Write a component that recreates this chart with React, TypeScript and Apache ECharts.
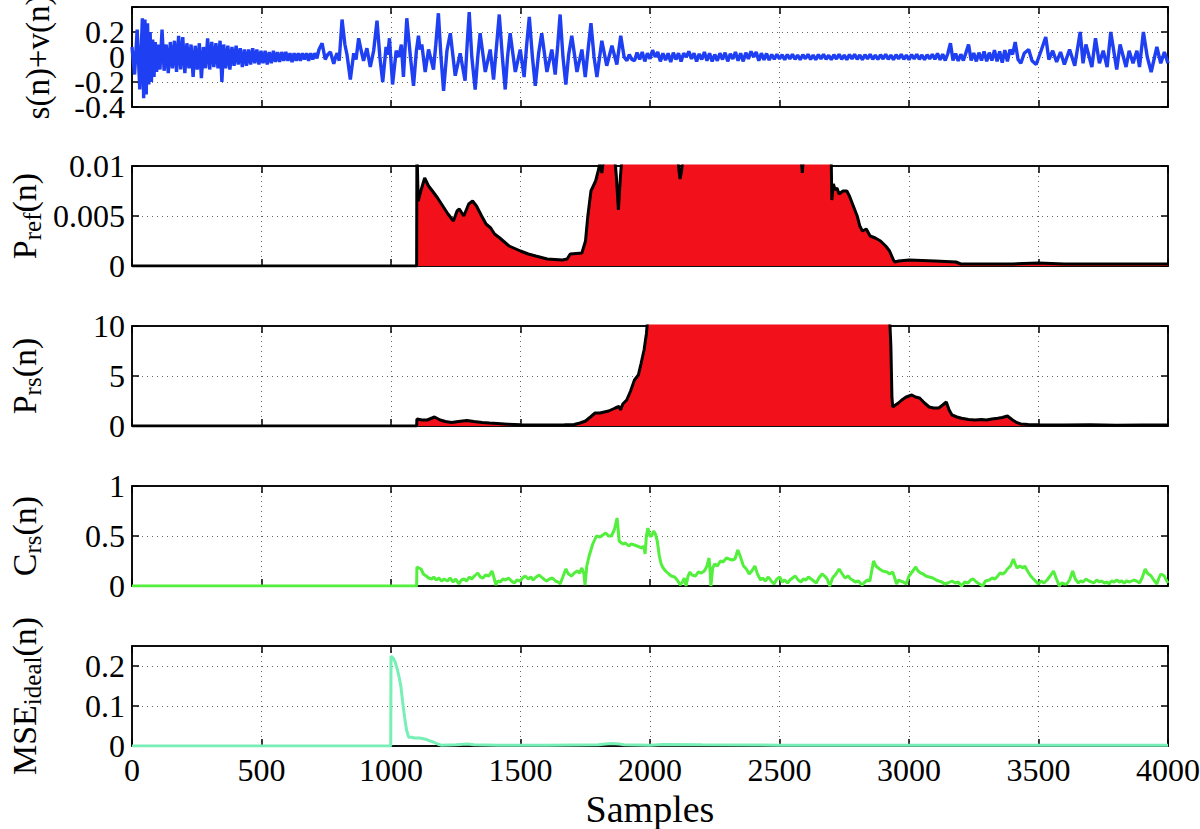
import React, { useEffect, useRef } from "react";
import * as echarts from "echarts";

const FONT = "Liberation Serif";

// x axis (samples)
const X_MIN = 0;
const X_MAX = 4000;
const X_INTERVAL = 500;

// y axis settings per panel
const yMins = [-0.4, 0, 0, 0, 0];
const yMaxs = [0.4, 0.01, 10, 1, 0.25];
const yIntervals = [0.2, 0.005, 5, 0.5, 0.1];
// panel 1 tick labels, split over two label layers so none is dropped
const signalLabelsA = [-0.4, 0];
const signalLabelsB = [-0.2, 0.2];
const yNames = [
  "s(n)+v(n)",
  "{a|P}{b|ref}{a|(n)}",
  "{a|P}{b|rs}{a|(n)}",
  "{a|C}{b|rs}{a|(n)}",
  "{a|MSE}{b|ideal}{a|(n)}",
];

// Panel 1: s(n)+v(n), [sample, value]
const signalStart: [number, number][] = [
  [0, 0.08], [10, -0.14], [20, 0.22], [30, -0.26], [40, 0.31], [45, -0.33], [50, 0.3], [55, -0.3],
  [60, 0.27], [65, -0.22], [70, 0.2], [75, -0.2], [80, 0.14], [85, -0.16], [90, 0.12], [95, -0.12],
  [100, 0.1], [108, -0.1], [116, 0.22], [124, -0.11], [132, 0.1], [140, -0.13], [148, 0.12], [156, -0.09],
  [164, 0.13], [172, -0.12], [180, 0.17], [188, -0.1], [196, 0.16], [204, -0.13], [212, 0.11], [220, -0.09],
  [228, 0.1], [236, -0.16], [244, 0.09], [252, -0.1], [260, 0.11], [268, -0.17], [276, 0.08], [284, -0.09],
  [292, 0.15], [300, -0.1], [308, 0.12], [316, -0.08], [324, 0.11], [332, -0.09], [340, 0.13], [347, -0.2],
  [354, 0.1], [362, -0.09], [370, 0.09], [378, -0.1], [386, 0.08], [394, -0.07], [402, 0.09], [410, -0.06],
  [418, 0.07], [426, -0.08], [434, 0.06], [442, -0.07], [450, 0.06], [458, -0.06], [466, 0.07], [474, -0.05],
  [482, 0.06], [490, -0.06], [498, 0.05], [506, -0.05], [514, 0.05], [522, -0.06], [530, 0.04], [538, -0.05],
  [546, 0.05], [554, -0.04], [562, 0.04], [570, -0.04], [578, 0.04], [586, -0.03], [594, 0.04], [602, -0.03],
  [610, 0.03], [618, -0.04], [626, 0.03], [634, -0.03], [642, 0.03], [650, -0.03], [658, 0.03], [666, -0.02],
  [674, 0.03], [682, -0.03], [690, 0.03], [698, -0.02], [706, 0.03], [714, -0.01], [722, 0.06], [734, 0.11],
  [746, -0.02], [756, 0.02], [766, 0.04], [779, -0.055], [786, 0.0], [792, 0.03], [800, -0.03],
];

const signalBurst: [number, number][] = [
  [811, 0.3], [822, 0.1], [830, 0.02], [843, -0.18], [856, 0.03], [865, -0.02], [875, 0.15], [885, 0.05],
  [894, -0.03], [907, 0.07], [920, -0.08], [933, 0.05], [946, 0.29], [957, 0.0], [968, -0.2], [981, 0.08],
  [988, 0.02], [994, 0.15], [1006, -0.22], [1020, 0.05], [1030, 0.0], [1040, 0.1], [1048, -0.16], [1061, 0.31],
  [1075, 0.0], [1087, -0.23], [1098, 0.05], [1106, 0.17], [1112, 0.06], [1119, 0.1], [1132, -0.12], [1145, 0.06],
  [1164, -0.1], [1173, 0.1], [1183, 0.35], [1193, 0.0], [1203, -0.27], [1216, 0.05], [1229, 0.19], [1248, -0.15],
  [1267, 0.03], [1286, -0.19], [1294, 0.1], [1302, 0.36], [1312, 0.0], [1325, -0.26], [1335, 0.0], [1344, 0.19],
  [1364, -0.12], [1383, 0.06], [1396, -0.18], [1408, 0.1], [1418, 0.34], [1430, 0.0], [1441, -0.26], [1450, 0.0],
  [1460, 0.19], [1480, -0.12], [1499, 0.06], [1514, -0.16], [1524, 0.1], [1534, 0.32], [1546, 0.0], [1557, -0.23],
  [1570, 0.03], [1582, 0.19], [1602, -0.12], [1621, 0.06], [1634, -0.14], [1644, 0.1], [1653, 0.34], [1664, 0.0],
  [1675, -0.22], [1686, 0.02], [1698, 0.17], [1718, -0.12], [1737, 0.06], [1750, -0.16], [1762, 0.08], [1772, 0.27],
  [1784, 0.0], [1795, -0.16], [1814, 0.13], [1833, -0.07], [1853, 0.09], [1872, -0.06], [1887, 0.17], [1900, 0.0],
  [1911, -0.03], [1920, 0.02], [1930, -0.02],
];

// quiet part, one value every 10 samples from 1940
const QUIET_START = 1940;
const QUIET_STEP = 10;
const signalQuiet: number[] = [
  -0.03, 0.035, -0.02, 0.04, -0.035, 0.03, -0.015, 0.055, 0.0, 0.04,
  -0.035, 0.03, -0.025, 0.03, -0.04, 0.035, -0.02, 0.03, -0.035, 0.03,
  0.0, 0.045, -0.015, 0.03, -0.035, 0.025, -0.02, 0.04, -0.03, 0.03,
  -0.035, 0.02, -0.03, 0.03, -0.02, 0.035, -0.035, 0.025, -0.015, 0.04,
  -0.03, 0.03, -0.035, 0.035, -0.015, 0.045, 0.0, 0.04, -0.03, 0.03,
  -0.022, 0.028, -0.025, 0.02, -0.018, 0.022, -0.015, 0.018, -0.022, 0.02,
  -0.015, 0.022, -0.018, 0.015, -0.022, 0.018, -0.014, 0.022, -0.019, 0.015,
  -0.022, 0.019, -0.015, 0.022, -0.018, 0.014, -0.022, 0.018, -0.016, 0.022,
  -0.018, 0.015, -0.022, 0.019, -0.015, 0.022, -0.018, 0.016, -0.022, 0.018,
  -0.015, 0.022, -0.018, 0.015, -0.02, 0.018, -0.016, 0.022, -0.018, 0.015,
  -0.022, 0.018, -0.015, 0.022, -0.018, 0.015, -0.022, 0.019, -0.015, 0.022,
  -0.018, 0.016, -0.022, 0.018, -0.015, 0.022, -0.018, 0.028, -0.022, 0.022,
  -0.028, 0.028, 0.11, -0.028, 0.028, -0.032, 0.022, -0.028, 0.035, 0.1,
  -0.028, 0.032, -0.035, 0.035, -0.028, 0.045, -0.035, 0.035, -0.028, 0.055,
  -0.035, 0.045, -0.045, 0.055, -0.035, 0.06,
];

const signalEnd: [number, number][] = [
  [3400, 0.02], [3410, 0.12], [3421, -0.02], [3432, -0.05], [3445, 0.03], [3462, 0.06], [3475, -0.03], [3491, -0.06],
  [3510, 0.05], [3528, 0.16], [3540, -0.02], [3555, 0.05], [3570, -0.04], [3585, 0.04], [3600, -0.06], [3620, 0.06],
  [3640, -0.07], [3661, 0.2], [3672, -0.05], [3683, 0.1], [3706, -0.08], [3720, 0.15], [3735, -0.05], [3750, 0.05],
  [3765, -0.08], [3779, 0.2], [3802, -0.1], [3815, 0.1], [3838, -0.08], [3850, 0.05], [3865, -0.05], [3880, 0.05],
  [3890, -0.08], [3905, 0.2], [3920, 0.0], [3935, -0.12], [3957, 0.08], [3972, -0.05], [3986, 0.04], [4000, -0.05],
];

// Panel 2: P_ref(n)
const pRef: [number, number][] = [
  [0, 0], [1099, 0], [1100, 0.012], [1105, 0.0065], [1115, 0.0075], [1130, 0.0088], [1145, 0.008], [1160, 0.0075],
  [1180, 0.0068], [1200, 0.006], [1220, 0.0052], [1241, 0.0045], [1255, 0.0055], [1264, 0.0057], [1281, 0.005],
  [1300, 0.0062], [1315, 0.0065], [1330, 0.006], [1350, 0.005], [1367, 0.0042], [1385, 0.0038], [1400, 0.0032],
  [1420, 0.0028], [1456, 0.002], [1500, 0.0015], [1530, 0.0012], [1559, 0.001], [1603, 0.0007], [1662, 0.0006],
  [1680, 0.0007], [1692, 0.0012], [1737, 0.0013], [1751, 0.0025], [1760, 0.005], [1772, 0.0075], [1790, 0.0085],
  [1800, 0.0095], [1808, 0.0105], [1814, 0.0093], [1822, 0.011], [1860, 0.012], [1870, 0.009], [1878, 0.0056],
  [1886, 0.009], [1895, 0.012], [2105, 0.012], [2112, 0.0095], [2116, 0.0087], [2122, 0.0095], [2130, 0.012],
  [2580, 0.012], [2588, 0.0093], [2596, 0.012], [2699, 0.012], [2702, 0.0066], [2708, 0.0082], [2715, 0.0076],
  [2722, 0.0078], [2730, 0.0072], [2745, 0.0075], [2760, 0.0075], [2770, 0.007], [2785, 0.006], [2800, 0.005],
  [2810, 0.004], [2820, 0.0035], [2835, 0.0037], [2850, 0.003], [2870, 0.0028], [2890, 0.0025], [2910, 0.002],
  [2925, 0.0015], [2940, 0.0006], [2945, 0.0004], [2960, 0.0005], [3000, 0.0006], [3100, 0.0005], [3181, 0.0004],
  [3200, 0.0002], [3400, 0.0002], [3500, 0.0003], [3600, 0.0002], [4000, 0.0002],
];

// Panel 3: P_rs(n)
const pRs: [number, number][] = [
  [0, 0], [1099, 0], [1100, 0.7], [1120, 0.6], [1140, 0.6], [1168, 0.9], [1190, 0.6], [1210, 0.45], [1234, 0.35],
  [1260, 0.45], [1293, 0.55], [1320, 0.45], [1352, 0.35], [1380, 0.3], [1411, 0.25], [1450, 0.18], [1500, 0.12],
  [1559, 0.1], [1620, 0.1], [1670, 0.12], [1707, 0.15], [1730, 0.3], [1751, 0.5], [1770, 0.9], [1788, 1.3],
  [1807, 1.3], [1840, 1.5], [1866, 1.8], [1875, 1.9], [1881, 1.95], [1886, 1.6], [1895, 2.2], [1910, 2.6],
  [1925, 3.5], [1940, 4.6], [1955, 5.1], [1965, 6.2], [1977, 7.6], [1986, 9.2], [1992, 11], [2925, 11],
  [2930, 8], [2934, 3], [2937, 1.9], [2948, 2.1], [2959, 2.3], [2972, 2.6], [2989, 2.9], [3011, 3.1], [3025, 2.9],
  [3041, 2.8], [3060, 2.3], [3078, 1.9], [3095, 1.8], [3115, 1.8], [3130, 2.1], [3144, 2.4], [3155, 1.6],
  [3166, 1.1], [3185, 0.9], [3203, 0.77], [3230, 0.65], [3255, 0.6], [3280, 0.65], [3299, 0.6], [3320, 0.7],
  [3343, 0.77], [3360, 0.85], [3380, 1.0], [3400, 0.6], [3417, 0.33], [3432, 0.2], [3460, 0.15], [3500, 0.12],
  [3600, 0.1], [3700, 0.12], [3800, 0.08], [3900, 0.1], [4000, 0.1],
];

// Panel 4: C_rs(n)
const cRs: [number, number][] = [
  [0, 0], [1099, 0], [1100, 0.19], [1108, 0.18], [1116, 0.17], [1125, 0.12], [1136, 0.1], [1145, 0.08], [1158, 0.07],
  [1165, 0.09], [1175, 0.06], [1185, 0.08], [1195, 0.05], [1205, 0.07], [1218, 0.05], [1228, 0.08], [1240, 0.04],
  [1250, 0.07], [1262, 0.02], [1272, 0.06], [1282, 0.07], [1292, 0.05], [1302, 0.09], [1312, 0.07], [1322, 0.1],
  [1335, 0.13], [1345, 0.09], [1355, 0.08], [1365, 0.11], [1378, 0.1], [1390, 0.15], [1398, 0.08], [1405, 0.01],
  [1412, 0.05], [1422, 0.04], [1432, 0.07], [1442, 0.06], [1454, 0.08], [1465, 0.05], [1476, 0.03], [1486, 0.06],
  [1498, 0.05], [1508, 0.08], [1518, 0.1], [1530, 0.07], [1540, 0.09], [1549, 0.06], [1560, 0.09], [1572, 0.11],
  [1585, 0.08], [1595, 0.06], [1601, 0.05], [1612, 0.07], [1623, 0.08], [1635, 0.05], [1645, 0.04], [1653, 0.02],
  [1662, 0.08], [1675, 0.17], [1685, 0.12], [1697, 0.1], [1708, 0.13], [1719, 0.15], [1728, 0.13], [1737, 0.18],
  [1745, 0.12], [1749, 0.01], [1756, 0.2], [1765, 0.3], [1779, 0.42], [1793, 0.5], [1807, 0.49], [1818, 0.51],
  [1829, 0.53], [1840, 0.5], [1851, 0.5], [1862, 0.56], [1873, 0.68], [1881, 0.45], [1890, 0.43], [1896, 0.42],
  [1905, 0.43], [1918, 0.4], [1928, 0.42], [1940, 0.41], [1950, 0.4], [1960, 0.39], [1970, 0.38], [1976, 0.4],
  [1981, 0.32], [1986, 0.5], [1992, 0.58], [1999, 0.5], [2006, 0.5], [2014, 0.55], [2021, 0.52], [2028, 0.45],
  [2036, 0.3], [2043, 0.22], [2051, 0.18], [2060, 0.15], [2073, 0.12], [2082, 0.1], [2095, 0.09], [2105, 0.06],
  [2117, 0.01], [2125, 0.04], [2132, 0.08], [2139, 0.0], [2147, 0.1], [2154, 0.14], [2162, 0.11], [2176, 0.1],
  [2186, 0.14], [2198, 0.13], [2210, 0.15], [2220, 0.2], [2228, 0.28], [2232, 0.15], [2235, 0.0], [2242, 0.18],
  [2250, 0.22], [2260, 0.2], [2272, 0.25], [2282, 0.24], [2295, 0.28], [2305, 0.27], [2317, 0.26], [2328, 0.27],
  [2339, 0.36], [2348, 0.3], [2361, 0.2], [2372, 0.17], [2383, 0.12], [2393, 0.15], [2405, 0.2], [2415, 0.12],
  [2427, 0.06], [2435, 0.08], [2445, 0.05], [2457, 0.09], [2468, 0.05], [2479, 0.02], [2490, 0.07], [2501, 0.09],
  [2510, 0.04], [2520, 0.06], [2531, 0.03], [2540, 0.06], [2550, 0.08], [2561, 0.1], [2572, 0.06], [2583, 0.04],
  [2592, 0.07], [2602, 0.06], [2612, 0.09], [2622, 0.07], [2632, 0.05], [2642, 0.03], [2652, 0.08], [2664, 0.12],
  [2674, 0.1], [2684, 0.07], [2694, 0.0], [2705, 0.08], [2718, 0.12], [2730, 0.17], [2740, 0.13], [2753, 0.08],
  [2765, 0.1], [2775, 0.07], [2782, 0.06], [2792, 0.04], [2805, 0.05], [2819, 0.01], [2830, 0.04], [2840, 0.06],
  [2849, 0.05], [2856, 0.15], [2863, 0.25], [2872, 0.2], [2886, 0.17], [2898, 0.15], [2915, 0.14], [2925, 0.12],
  [2937, 0.14], [2945, 0.08], [2952, 0.02], [2960, 0.06], [2967, 0.05], [2978, 0.04], [2989, 0.02], [3000, 0.1],
  [3012, 0.14], [3026, 0.19], [3035, 0.15], [3045, 0.13], [3055, 0.12], [3065, 0.1], [3078, 0.09], [3092, 0.08],
  [3105, 0.06], [3115, 0.05], [3127, 0.04], [3137, 0.02], [3150, 0.03], [3166, 0.05], [3178, 0.03], [3190, 0.04],
  [3203, 0.0], [3215, 0.04], [3228, 0.03], [3238, 0.06], [3248, 0.07], [3260, 0.04], [3272, 0.02], [3285, 0.0],
  [3295, 0.05], [3310, 0.06], [3321, 0.08], [3332, 0.07], [3343, 0.1], [3351, 0.13], [3362, 0.12], [3372, 0.14],
  [3380, 0.17], [3392, 0.2], [3403, 0.27], [3410, 0.22], [3417, 0.18], [3428, 0.2], [3440, 0.18], [3447, 0.2],
  [3460, 0.14], [3470, 0.1], [3477, 0.08], [3488, 0.05], [3499, 0.02], [3510, 0.05], [3521, 0.03], [3533, 0.06],
  [3545, 0.1], [3558, 0.15], [3568, 0.08], [3580, 0.0], [3590, 0.03], [3600, 0.02], [3609, 0.02], [3620, 0.06],
  [3632, 0.15], [3642, 0.07], [3654, 0.03], [3662, 0.05], [3672, 0.04], [3683, 0.07], [3695, 0.05], [3705, 0.04],
  [3713, 0.03], [3725, 0.06], [3735, 0.04], [3743, 0.05], [3755, 0.03], [3765, 0.04], [3772, 0.02], [3782, 0.05],
  [3792, 0.04], [3802, 0.06], [3812, 0.04], [3822, 0.05], [3831, 0.03], [3840, 0.05], [3852, 0.04], [3868, 0.06],
  [3878, 0.05], [3890, 0.03], [3900, 0.08], [3912, 0.17], [3920, 0.13], [3935, 0.1], [3945, 0.06], [3957, 0.02],
  [3965, 0.08], [3972, 0.12], [3980, 0.11], [3986, 0.1], [3993, 0.06], [4000, 0.03],
];

// Panel 5: MSE_ideal(n)
const mseIdeal: [number, number][] = [
  [0, 0], [999, 0], [1000, 0.225], [1008, 0.22], [1016, 0.21], [1025, 0.19], [1032, 0.17], [1038, 0.15],
  [1045, 0.11], [1053, 0.07], [1060, 0.04], [1068, 0.022], [1080, 0.022], [1090, 0.02], [1110, 0.02],
  [1134, 0.017], [1150, 0.013], [1163, 0.01], [1180, 0.005], [1193, 0.002], [1250, 0.003], [1296, 0.005],
  [1320, 0.003], [1414, 0.002], [1600, 0.002], [1800, 0.003], [1850, 0.006], [1880, 0.005], [1900, 0.003],
  [2000, 0.002], [2050, 0.004], [2200, 0.003], [2500, 0.002], [3000, 0.002], [4000, 0.002],
];

const GRID_LEFT = 132;
const GRID_WIDTH = 1036;
const GRID_TOPS = [7, 166, 326, 486, 646];
const GRID_HEIGHT = 100;

export default function App() {
  const ref = useRef<HTMLDivElement>(null);

  useEffect(() => {
    if (!ref.current) return;
    const chart = echarts.init(ref.current, null, { renderer: "svg" });

    const signal: [number, number][] = [
      ...signalStart,
      ...signalBurst,
      ...signalQuiet.map((v, i) => [QUIET_START + i * QUIET_STEP, v] as [number, number]),
      ...signalEnd,
    ];

    const axisLineStyle = { color: "#000", width: 1.5 };
    const tickStyle = { show: true, inside: true, length: 7, lineStyle: { color: "#000", width: 1.5 } };
    const dotted = { color: "#666", width: 1, type: [1, 4] as any };
    const yLabel = {
      fontFamily: FONT, fontSize: 32, color: "#000",
      formatter: (v: number) => String(v),
      hideOverlap: false,
    };

    const grid = GRID_TOPS.map((t) => ({
      left: GRID_LEFT,
      top: t,
      width: GRID_WIDTH,
      height: GRID_HEIGHT,
      show: true,
      borderColor: "#000",
      borderWidth: 1.5,
      backgroundColor: "transparent",
      containLabel: false,
      outerBoundsMode: "none",
    }));

    const xAxis: any[] = [];
    const yAxis: any[] = [];
    for (let i = 0; i < 5; i++) {
      xAxis.push({
        type: "value",
        gridIndex: i,
        min: X_MIN,
        max: X_MAX,
        interval: X_INTERVAL,
        position: "bottom",
        axisLine: { show: true, onZero: false, lineStyle: axisLineStyle },
        axisTick: tickStyle,
        axisLabel: {
          show: i === 4, fontFamily: FONT, fontSize: 32, color: "#000", margin: 8,
          formatter: (v: number) => String(v), showMinLabel: true, showMaxLabel: true,
        },
        splitLine: { show: true, showMinLine: false, showMaxLine: false, lineStyle: dotted },
        name: i === 4 ? "Samples" : "",
        nameLocation: "middle",
        nameGap: 44,
        nameMoveOverlap: false,
        nameTextStyle: { fontFamily: FONT, fontSize: 38, color: "#000" },
      });
    }
    for (let i = 0; i < 5; i++) {
      xAxis.push({
        type: "value",
        gridIndex: i,
        min: X_MIN,
        max: X_MAX,
        interval: X_INTERVAL,
        position: "top",
        axisLine: { show: true, onZero: false, lineStyle: axisLineStyle },
        axisTick: tickStyle,
        axisLabel: { show: false },
        splitLine: { show: false },
      });
    }
    for (let i = 0; i < 5; i++) {
      const labelCfg: any = i === 0
        ? { ...yLabel, margin: 7, customValues: signalLabelsA }
        : { ...yLabel, margin: 7, showMinLabel: true, showMaxLabel: i !== 4 };
      yAxis.push({
        type: "value",
        gridIndex: i,
        min: yMins[i],
        max: yMaxs[i],
        interval: yIntervals[i],
        position: "left",
        axisLine: { show: true, onZero: false, lineStyle: axisLineStyle },
        axisTick: tickStyle,
        axisLabel: labelCfg,
        splitLine: { show: true, showMinLine: false, showMaxLine: false, lineStyle: dotted },
        name: yNames[i],
        nameLocation: "middle",
        nameRotate: 90,
        nameGap: i === 0 ? 78 : 91,
        nameMoveOverlap: false,
        nameTextStyle: {
          fontFamily: FONT,
          fontSize: i === 0 ? 33 : 34,
          color: "#000",
          rich: {
            a: { fontFamily: FONT, fontSize: 34, lineHeight: 34, color: "#000" },
            b: { fontFamily: FONT, fontSize: 25, lineHeight: 25, color: "#000", padding: [17, 0, 0, 0] },
          },
        },
      });
    }
    for (let i = 0; i < 5; i++) {
      yAxis.push({
        type: "value",
        gridIndex: i,
        min: yMins[i],
        max: yMaxs[i],
        interval: yIntervals[i],
        position: "right",
        axisLine: { show: true, onZero: false, lineStyle: axisLineStyle },
        axisTick: tickStyle,
        axisLabel: { show: false },
        splitLine: { show: false },
      });
    }
    // second label layer for panel 1 (-0.2 and 0.2)
    yAxis.push({
      type: "value",
      gridIndex: 0,
      min: yMins[0],
      max: yMaxs[0],
      interval: yIntervals[0],
      position: "left",
      offset: 0,
      axisLine: { show: false },
      axisTick: { show: false },
      splitLine: { show: false },
      axisLabel: { ...yLabel, margin: 7, customValues: signalLabelsB },
    });

    const lineBase = { type: "line", showSymbol: false, symbol: "none", silent: true, clip: true };

    chart.setOption({
      animation: false,
      backgroundColor: "#fff",
      grid,
      xAxis,
      yAxis,
      series: [
        { ...lineBase, name: "s(n)+v(n)", xAxisIndex: 0, yAxisIndex: 0, data: signal, lineStyle: { color: "#1f3ff2", width: 3.4 } },
        {
          ...lineBase, name: "Pref", xAxisIndex: 1, yAxisIndex: 1, data: pRef,
          lineStyle: { color: "#000", width: 3 }, areaStyle: { color: "#f2111a", opacity: 1 },
        },
        {
          ...lineBase, name: "Prs", xAxisIndex: 2, yAxisIndex: 2, data: pRs,
          lineStyle: { color: "#000", width: 3 }, areaStyle: { color: "#f2111a", opacity: 1 },
        },
        { ...lineBase, name: "Crs", xAxisIndex: 3, yAxisIndex: 3, data: cRs, lineStyle: { color: "#52ef3c", width: 3 } },
        { ...lineBase, name: "MSE", xAxisIndex: 4, yAxisIndex: 4, data: mseIdeal, lineStyle: { color: "#78efb6", width: 3 } },
      ],
    });

    return () => chart.dispose();
  }, []);

  return (
    <div
      ref={ref}
      style={{ position: "absolute", left: 0, top: 0, width: 1200, height: 829, background: "#fff" }}
    />
  );
}
